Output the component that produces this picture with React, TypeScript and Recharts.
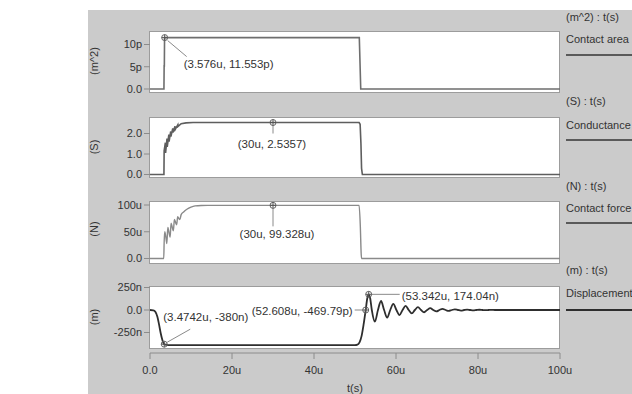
import React from 'react';
import { LineChart, Line, XAxis, YAxis, ReferenceDot } from 'recharts';

const FONT = '"Liberation Sans", Arial, Helvetica, sans-serif';

// ---- data (t in µs) ----
const timeTicks = [0, 20, 40, 60, 80, 100];
const timeTickLabels = ['0.0', '20u', '40u', '60u', '80u', '100u'];

// Contact area (p m^2)
const contactArea = [
  { t: 0, v: 0 }, { t: 3.4, v: 0 }, { t: 3.45, v: 5.2 }, { t: 3.5, v: 5.2 },
  { t: 3.55, v: 11.553 }, { t: 51.05, v: 11.553 }, { t: 51.4, v: 0 }, { t: 100, v: 0 },
];

// Conductance (S)
const conductance = [
  { t: 0, v: 0 }, { t: 3.4, v: 0 }, { t: 3.45, v: 1.15 }, { t: 3.75, v: 1.55 }, { t: 3.8, v: 1.05 },
  { t: 4.15, v: 1.75 }, { t: 4.2, v: 1.35 }, { t: 4.6, v: 1.95 }, { t: 4.65, v: 1.6 },
  { t: 5.05, v: 2.1 }, { t: 5.1, v: 1.85 }, { t: 5.55, v: 2.25 }, { t: 5.6, v: 2.05 },
  { t: 6.1, v: 2.35 }, { t: 6.15, v: 2.2 }, { t: 6.8, v: 2.43 }, { t: 6.85, v: 2.35 },
  { t: 7.6, v: 2.48 }, { t: 8.8, v: 2.52 }, { t: 10.5, v: 2.535 }, { t: 12, v: 2.5357 },
  { t: 51.0, v: 2.5357 }, { t: 51.25, v: 2.45 }, { t: 51.45, v: 1.5 }, { t: 51.6, v: 0.3 },
  { t: 51.8, v: 0 }, { t: 100, v: 0 },
];

// Contact force (µN)
const contactForce = [
  { t: 0, v: 0 }, { t: 3.35, v: 0 }, { t: 3.45, v: 30 }, { t: 3.6, v: 50 }, { t: 3.9, v: 38 },
  { t: 4.1, v: 28 }, { t: 4.35, v: 58 }, { t: 4.7, v: 46 }, { t: 4.9, v: 40 }, { t: 5.15, v: 66 },
  { t: 5.5, v: 56 }, { t: 5.7, v: 52 }, { t: 5.95, v: 73 }, { t: 6.3, v: 66 }, { t: 6.5, v: 63 },
  { t: 6.75, v: 78 }, { t: 7.1, v: 74 }, { t: 7.3, v: 73 }, { t: 7.6, v: 82 }, { t: 8.2, v: 87 },
  { t: 9, v: 92 }, { t: 10, v: 96 }, { t: 11, v: 98.3 }, { t: 12.5, v: 99.2 }, { t: 14, v: 99.328 },
  { t: 51.0, v: 99.328 }, { t: 51.3, v: 60 }, { t: 51.5, v: 10 }, { t: 51.6, v: 0 }, { t: 100, v: 0 },
];

// Displacement (n m)
const displacement = [
  { t: 0, v: 0 }, { t: 0.8, v: -3 }, { t: 1.3, v: -20 }, { t: 1.8, v: -75 }, { t: 2.2, v: -160 },
  { t: 2.6, v: -255 }, { t: 3.0, v: -330 }, { t: 3.4742, v: -380 }, { t: 4.0, v: -388 }, { t: 5, v: -390 },
  { t: 50.0, v: -390 }, { t: 50.6, v: -385 }, { t: 51.1, v: -360 }, { t: 51.6, v: -290 }, { t: 52.1, v: -160 },
  { t: 52.608, v: 0 }, { t: 53.0, v: 130 }, { t: 53.342, v: 174.04 }, { t: 53.7, v: 130 }, { t: 54.1, v: 0 },
  { t: 54.85, v: -130 }, { t: 55.6, v: 0 }, { t: 56.35, v: 100 }, { t: 57.1, v: 0 }, { t: 57.85, v: -85 },
  { t: 58.6, v: 0 }, { t: 59.35, v: 68 }, { t: 60.1, v: 0 }, { t: 60.85, v: -56 }, { t: 61.6, v: 0 },
  { t: 62.35, v: 46 }, { t: 63.1, v: 0 }, { t: 63.85, v: -38 }, { t: 64.6, v: 0 }, { t: 65.35, v: 31 },
  { t: 66.1, v: 0 }, { t: 66.85, v: -25 }, { t: 67.6, v: 0 }, { t: 68.35, v: 20 }, { t: 69.1, v: 0 },
  { t: 69.85, v: -16 }, { t: 70.6, v: 0 }, { t: 71.35, v: 13 }, { t: 72.1, v: 0 }, { t: 72.85, v: -10 },
  { t: 73.6, v: 0 }, { t: 74.35, v: 8 }, { t: 75.1, v: 0 }, { t: 75.85, v: -6.5 }, { t: 76.6, v: 0 },
  { t: 77.35, v: 5 }, { t: 78.1, v: 0 }, { t: 78.85, v: -4 }, { t: 79.6, v: 0 }, { t: 80.35, v: 3 },
  { t: 81.1, v: 0 }, { t: 81.85, v: -2 }, { t: 82.6, v: 0 }, { t: 83.35, v: 1.5 }, { t: 84.1, v: 0 },
  { t: 100, v: 0 },
];

// y-axis ticks and labels
const areaTicks = [0, 5, 10];
const areaTickLabels = ['0.0', '5p', '10p'];
const condTicks = [0, 1, 2];
const condTickLabels = ['0.0', '1.0', '2.0'];
const forceTicks = [0, 50, 100];
const forceTickLabels = ['0.0', '50u', '100u'];
const dispTicks = [-250, 0, 250];
const dispTickLabels = ['-250n', '0.0', '250n'];

// axis titles and legend text
const yTitles = ['(m^2)', '(S)', '(N)', '(m)'];
const legendUnits = ['(m^2) : t(s)', '(S) : t(s)', '(N) : t(s)', '(m) : t(s)'];
const legendNames = ['Contact area', 'Conductance', 'Contact force', 'Displacement'];
const xTitle = 't(s)';

// annotations (data point + label text)
const areaNotes = [{ t: 3.576, v: 11.553, label: '(3.576u, 11.553p)' }];
const condNotes = [{ t: 30, v: 2.5357, label: '(30u, 2.5357)' }];
const forceNotes = [{ t: 30, v: 99.328, label: '(30u, 99.328u)' }];
const dispNotes = [
  { t: 3.4742, v: -380, label: '(3.4742u, -380n)' },
  { t: 52.608, v: -0.00046979, label: '(52.608u, -469.79p)' },
  { t: 53.342, v: 174.04, label: '(53.342u, 174.04n)' },
];

// ---- layout / style ----
const W = 632;
const H = 394;
const PLOT_L = 150;
const PLOT_R = 560;
const TXT = '#333';

const LAYOUT = [
  { top: 32, bottom: 93, boxTop: 31, boxBottom: 93, domain: [-0.9, 12.81], title: 61, unitY: 17, nameY: 39, lineY: 55 },
  { top: 117, bottom: 177, boxTop: 116.5, boxBottom: 177.5, domain: [-0.122, 2.805], title: 147, unitY: 101, nameY: 125, lineY: 140 },
  { top: 201, bottom: 264, boxTop: 201, boxBottom: 264, domain: [-10.3, 107.5], title: 229, unitY: 186, nameY: 208, lineY: 223 },
  { top: 286, bottom: 353, boxTop: 285.5, boxBottom: 348.5, domain: [-477.8, 266.7], title: 317, unitY: 270, nameY: 293, lineY: 310 },
];

// label placements relative to the marker (pixels)
const NOTE_STYLE = [
  [{ l: [3, 3, 22, 19], tx: 19, ty: 26.5, anchor: 'start' }],
  [{ l: [0, 3, 0, 11], tx: -1, ty: 21.5, anchor: 'middle' }],
  [{ l: [0, 3, 0, 21], tx: 4, ty: 29, anchor: 'middle' }],
  [
    { l: [3, -2, 26, -15], tx: -1, ty: -27, anchor: 'start' },
    { l: [-3, 0, -11, 0], tx: -13, ty: 1, anchor: 'end' },
    { l: [3, 0, 31, 0], tx: 33, ty: 1.5, anchor: 'start' },
  ],
];

const makeFmt = (ticks: number[], labels: string[]) => (v: number) => {
  const i = ticks.findIndex((x) => Math.abs(x - v) < 1e-9);
  return i >= 0 ? labels[i] : String(v);
};

const noteShape = (label: string, s: any) => (p: any) => {
  const { cx, cy } = p;
  if (cx == null || cy == null) return <g />;
  return (
    <g>
      <line x1={cx + s.l[0]} y1={cy + s.l[1]} x2={cx + s.l[2]} y2={cy + s.l[3]} stroke="#8a8a8a" strokeWidth={1} />
      <circle cx={cx} cy={cy} r={3} fill="none" stroke="#666" strokeWidth={1} />
      <line x1={cx - 3} y1={cy} x2={cx + 3} y2={cy} stroke="#555" strokeWidth={1} />
      <line x1={cx} y1={cy - 3} x2={cx} y2={cy + 3} stroke="#555" strokeWidth={1} />
      <text
        x={cx + s.tx}
        y={cy + s.ty}
        textAnchor={s.anchor}
        dominantBaseline="central"
        fill={TXT}
        fontSize={11.5}
        fontFamily={FONT}
      >
        {label}
      </text>
    </g>
  );
};

type PanelProps = {
  idx: number;
  data: { t: number; v: number }[];
  ticks: number[];
  labels: string[];
  notes: { t: number; v: number; label: string }[];
  stroke: string;
  strokeWidth: number;
  curve: any;
  showX?: boolean;
};

function Panel({ idx, data, ticks, labels, notes, stroke, strokeWidth, curve, showX }: PanelProps) {
  const L = LAYOUT[idx];
  const xH = 30;
  return (
    <div style={{ position: 'absolute', left: 0, top: 0 }}>
      <LineChart
        width={W}
        height={H}
        data={data}
        margin={{ top: L.top, bottom: showX ? H - L.bottom - xH : H - L.bottom, left: 0, right: W - PLOT_R }}
      >
        <XAxis
          type="number"
          dataKey="t"
          domain={[0, 100]}
          ticks={timeTicks}
          tickFormatter={makeFmt(timeTicks, timeTickLabels)}
          hide={!showX}
          height={xH}
          allowDataOverflow
          axisLine={{ stroke: '#8c8c8c' }}
          tickLine={{ stroke: '#8c8c8c' }}
          tickSize={6}
          tickMargin={7}
          tick={{ fill: TXT, fontSize: 11, fontFamily: FONT }}
        />
        <YAxis
          type="number"
          domain={L.domain}
          ticks={ticks}
          tickFormatter={makeFmt(ticks, labels)}
          width={PLOT_L}
          allowDataOverflow
          axisLine={false}
          tickLine={{ stroke: '#8c8c8c' }}
          tickSize={6}
          tickMargin={2}
          tick={{ fill: TXT, fontSize: 11, fontFamily: FONT }}
        />
        <Line
          type={curve}
          dataKey="v"
          stroke={stroke}
          strokeWidth={strokeWidth}
          dot={false}
          activeDot={false}
          isAnimationActive={false}
        />
        {notes.map((n, i) => (
          <ReferenceDot
            key={i}
            x={n.t}
            y={n.v}
            r={3}
            ifOverflow="visible"
            shape={noteShape(n.label, NOTE_STYLE[idx][i])}
          />
        ))}
      </LineChart>
    </div>
  );
}

export default function App() {
  return (
    <div style={{ position: 'fixed', left: 0, top: 0, width: W, height: H, background: '#fff', overflow: 'hidden', fontFamily: FONT }}>
      <div style={{ position: 'absolute', left: 88, top: 10, width: W - 88, height: H - 10, background: '#cbcbcb' }} />
      {LAYOUT.map((L, i) => (
        <div
          key={'box' + i}
          style={{
            position: 'absolute',
            left: PLOT_L - 1.5,
            top: L.boxTop,
            width: PLOT_R - PLOT_L + 1.5,
            height: L.boxBottom - L.boxTop,
            background: '#fff',
            border: '1px solid #9c9c9c',
            boxSizing: 'border-box',
          }}
        />
      ))}
      {LAYOUT.map((L, i) => (
        <div
          key={'yt' + i}
          style={{
            position: 'absolute',
            left: 94,
            top: L.title,
            transform: 'translate(-50%, -50%) rotate(-90deg)',
            fontSize: 11,
            color: TXT,
            whiteSpace: 'nowrap',
          }}
        >
          {yTitles[i]}
        </div>
      ))}
      {LAYOUT.map((L, i) => (
        <React.Fragment key={'lg' + i}>
          <div style={{ position: 'absolute', left: 566, top: L.unitY - 7, fontSize: 11, color: TXT, whiteSpace: 'nowrap', lineHeight: '14px' }}>
            {legendUnits[i]}
          </div>
          <div style={{ position: 'absolute', left: 566, top: L.nameY - 7, fontSize: 11, color: TXT, whiteSpace: 'nowrap', lineHeight: '14px' }}>
            {legendNames[i]}
          </div>
          <div
            style={{
              position: 'absolute',
              left: 566,
              top: L.lineY - 1,
              width: W - 566,
              height: i === 3 ? 2 : 1.5,
              background: i === 3 ? '#2e2e2e' : '#5a5a5a',
            }}
          />
        </React.Fragment>
      ))}
      <div style={{ position: 'absolute', left: 355, top: 388, transform: 'translate(-50%, -50%)', fontSize: 11, color: TXT }}>
        {xTitle}
      </div>
      <Panel idx={0} data={contactArea} ticks={areaTicks} labels={areaTickLabels} notes={areaNotes} stroke="#6e6e6e" strokeWidth={1.6} curve="linear" />
      <Panel idx={1} data={conductance} ticks={condTicks} labels={condTickLabels} notes={condNotes} stroke="#5e5e5e" strokeWidth={1.6} curve="linear" />
      <Panel idx={2} data={contactForce} ticks={forceTicks} labels={forceTickLabels} notes={forceNotes} stroke="#8a8a8a" strokeWidth={1.4} curve="monotone" />
      <Panel idx={3} data={displacement} ticks={dispTicks} labels={dispTickLabels} notes={dispNotes} stroke="#2e2e2e" strokeWidth={1.8} curve="monotone" showX />
    </div>
  );
}
